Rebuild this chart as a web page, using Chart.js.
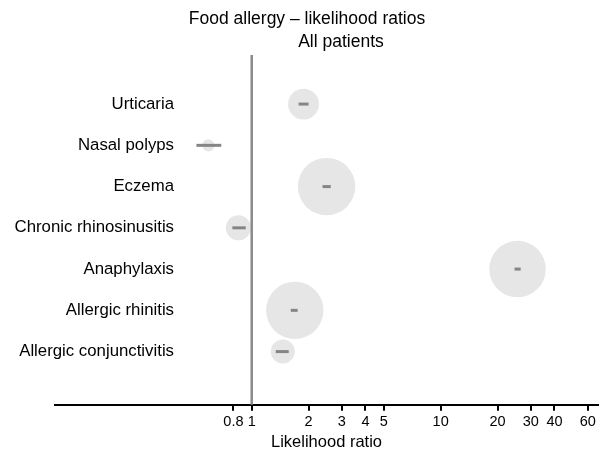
<!DOCTYPE html>
<html>
<head>
<meta charset="utf-8">
<script src="https://cdn.jsdelivr.net/npm/chart.js@4"></script>
<style>
  html, body { margin: 0; padding: 0; background: #fff; overflow: hidden; }
  canvas { display: block; }
</style>
</head>
<body>
<canvas id="lrChart" width="601" height="455"></canvas>
<script>
// Food allergy - likelihood ratios (all patients)
const conditions = ['Urticaria', 'Nasal polyps', 'Eczema', 'Chronic rhinosinusitis',
                    'Anaphylaxis', 'Allergic rhinitis', 'Allergic conjunctivitis'];
const likelihoodRatio = [1.88, 0.59, 2.49, 0.85, 25.5, 1.69, 1.46];
const ciLower = [1.77, 0.51, 2.37, 0.79, 24.6, 1.61, 1.34];
const ciUpper = [2.00, 0.69, 2.62, 0.93, 26.5, 1.75, 1.57];
const weight = [29, 4.5, 100, 19, 97, 100, 17.5];   // relative weight -> bubble area
const xTicks = [0.8, 1, 2, 3, 4, 5, 10, 20, 30, 40, 60];
const titleLines = ['Food allergy \u2013 likelihood ratios', 'All patients'];

const FONT = '"Liberation Sans", Arial, sans-serif';
const maxR = 28.7;

const points = conditions.map((c, i) => ({
    x: likelihoodRatio[i],
    y: i,
    r: maxR * Math.sqrt(weight[i] / 100)
}));

// CI whiskers, reference line at LR = 1, category labels
const forestLines = {
    id: 'forestLines',
    afterDatasetsDraw(chart) {
        const { ctx, scales: { x, y }, chartArea } = chart;
        ctx.save();
        ctx.strokeStyle = '#858585';
        ctx.lineWidth = 3;
        conditions.forEach((c, i) => {
            const py = y.getPixelForValue(i);
            ctx.beginPath();
            ctx.moveTo(x.getPixelForValue(ciLower[i]), py);
            ctx.lineTo(x.getPixelForValue(ciUpper[i]), py);
            ctx.stroke();
        });
        const x1 = x.getPixelForValue(1);
        ctx.lineWidth = 2.5;
        ctx.strokeStyle = '#8a8a8a';
        ctx.beginPath();
        ctx.moveTo(x1, chartArea.top);
        ctx.lineTo(x1, chartArea.bottom);
        ctx.stroke();

        ctx.fillStyle = '#000';
        ctx.font = '16.8px ' + FONT;
        ctx.textAlign = 'right';
        ctx.textBaseline = 'middle';
        conditions.forEach((c, i) => {
            ctx.fillText(c, 174, y.getPixelForValue(i));
        });
        ctx.restore();
    }
};

const twoLineTitle = {
    id: 'twoLineTitle',
    afterDraw(chart) {
        const ctx = chart.ctx;
        ctx.save();
        ctx.fillStyle = '#000';
        ctx.font = '17.5px ' + FONT;
        ctx.textAlign = 'center';
        ctx.textBaseline = 'middle';
        ctx.fillText(titleLines[0], 307, 19);
        ctx.fillText(titleLines[1], 341, 42);
        ctx.restore();
    }
};

new Chart(document.getElementById('lrChart'), {
    type: 'bubble',
    data: {
        datasets: [{
            data: points,
            backgroundColor: '#e6e6e6',
            borderWidth: 0,
            hoverBackgroundColor: '#e6e6e6'
        }]
    },
    options: {
        responsive: false,
        animation: false,
        layout: { autoPadding: false, padding: { left: 55, right: 3, top: 55, bottom: 3 } },
        plugins: {
            legend: { display: false },
            tooltip: { enabled: false }
        },
        scales: {
            x: {
                type: 'logarithmic',
                min: 0.091,
                max: 68,
                afterBuildTicks: axis => { axis.ticks = xTicks.map(v => ({ value: v })); },
                afterFit: axis => { axis.paddingLeft = 0; axis.paddingRight = 0; },
                ticks: {
                    autoSkip: false,
                    maxRotation: 0,
                    padding: 2,
                    color: '#000',
                    font: { family: FONT, size: 14.5 },
                    callback: v => String(v)
                },
                grid: {
                    drawOnChartArea: false,
                    drawTicks: true,
                    tickLength: 6,
                    color: '#000',
                    lineWidth: 2
                },
                border: { display: true, color: '#000', width: 2 },
                title: {
                    display: true,
                    text: 'Likelihood ratio',
                    color: '#000',
                    font: { family: FONT, size: 16.5 },
                    padding: { top: 0, bottom: 0 }
                }
            },
            y: {
                type: 'linear',
                reverse: true,
                min: -1.19,
                max: 7.29,
                afterBuildTicks: axis => { axis.ticks = conditions.map((c, i) => ({ value: i })); },
                ticks: { display: false },
                grid: { display: false, drawTicks: false },
                border: { display: false }
            }
        }
    },
    plugins: [forestLines, twoLineTitle]
});
</script>
</body>
</html>
